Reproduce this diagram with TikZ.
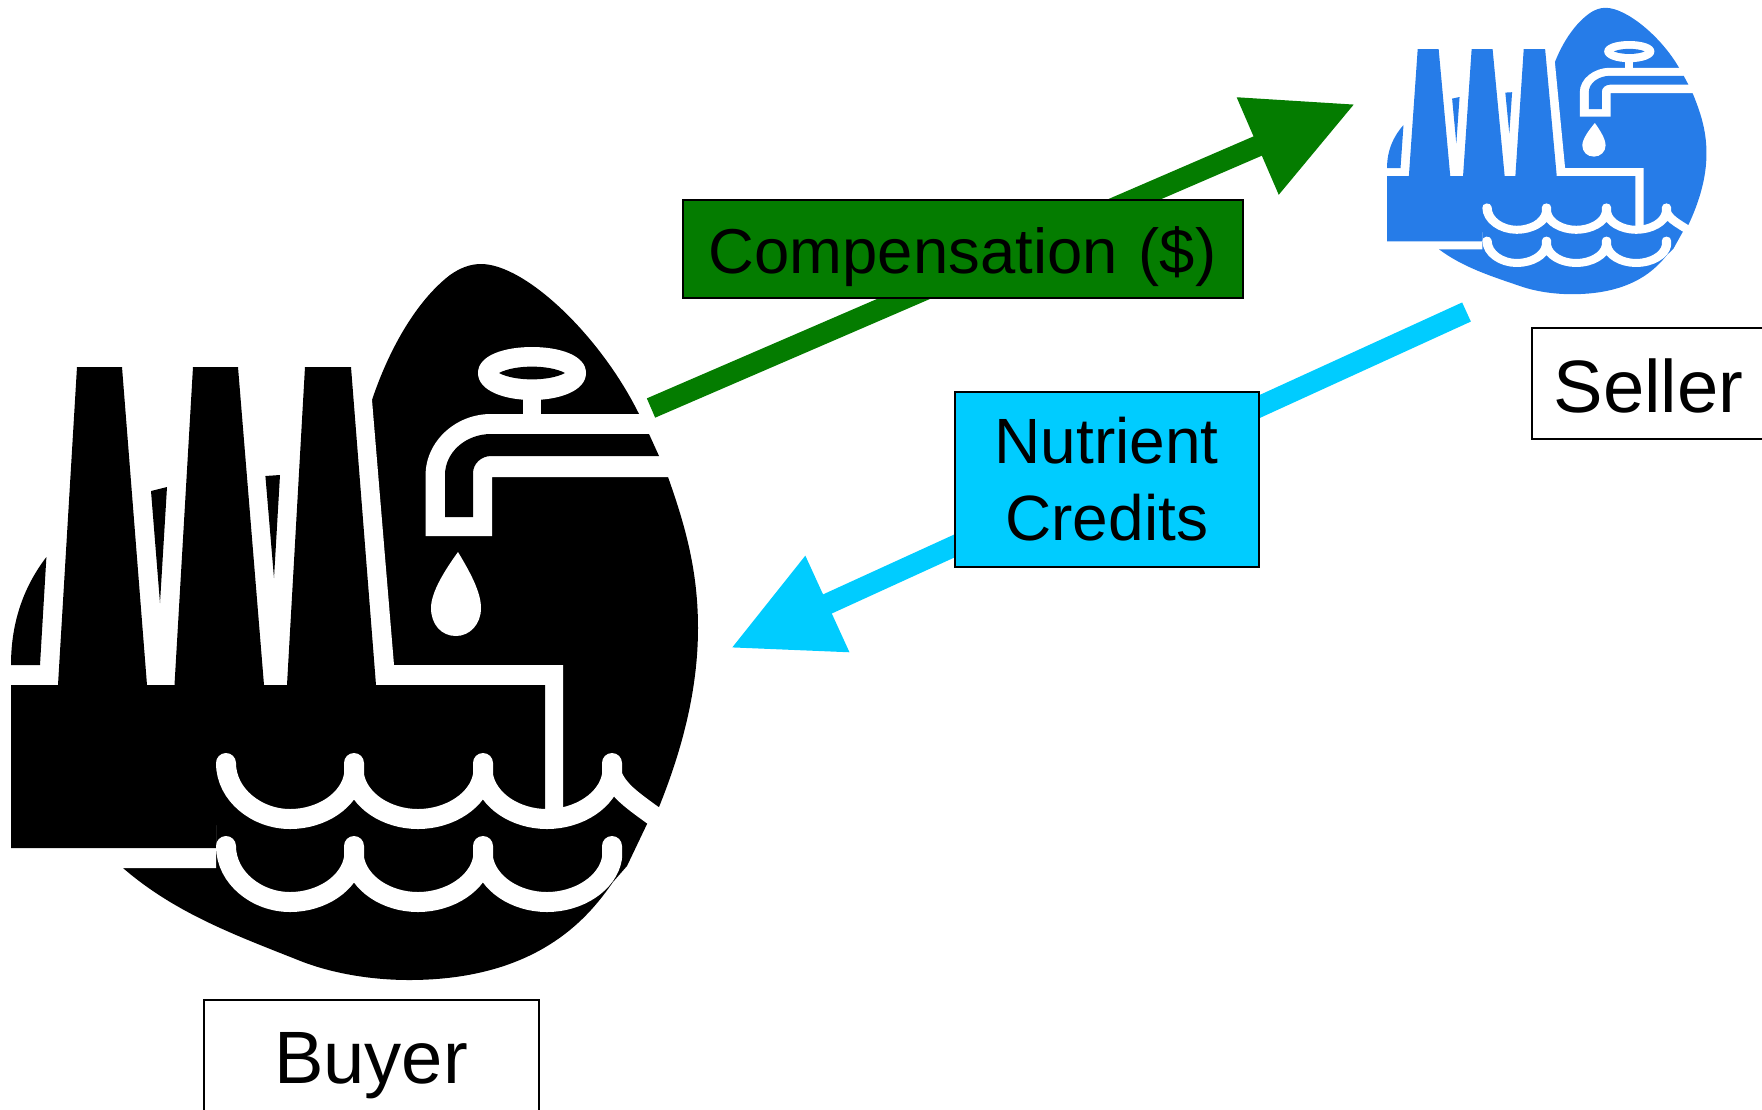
\documentclass[tikz,border=0pt]{standalone}
\usepackage{fontspec}
\setmainfont{Liberation Sans}
\usetikzlibrary{arrows.meta}
\definecolor{paygreen}{HTML}{047C00}
\definecolor{creditcyan}{HTML}{00CCFF}
\definecolor{sellerblue}{HTML}{267CE8}
\tikzset{
  labelbox/.style={draw=black,line width=1pt,inner sep=0pt,outer sep=0pt,anchor=north west,align=center,text=black},
  bigtext/.style={font=\fontsize{37.1}{40}\selectfont},
  midtext/.style={font=\fontsize{32}{38.5}\selectfont},
  comptext/.style={font=\fontsize{31.7}{38}\selectfont},
  waveline/.style={draw=white,line width=10pt,line cap=round,line join=round},
  flowarrow/.style={line width=10.5pt,-{Triangle[length=53pt,width=50pt]}}
}
\newcommand{\wqwave}{%
  (226,763) .. controls (226,795) and (257,819) .. (290,819)
    .. controls (322,819) and (350,800) .. (354,775)
  (354,763) -- (354,775)
  (354,775) .. controls (358,800) and (386,819) .. (418,819)
    .. controls (450,819) and (479,800) .. (483,775)
  (483,763) -- (483,775)
  (483,775) .. controls (487,800) and (515,819) .. (547,819)
    .. controls (579,819) and (608,800) .. (612,775)
  (612,763) -- (612,775)
}
\newcommand{\wqicon}[1]{%
  % water-drop background
  \fill[#1] (372,400) .. controls (388,352) and (415,302) .. (450,275)
    .. controls (460,268) and (470,264) .. (481,264)
    .. controls (525,264) and (600,335) .. (639,414)
    -- (649,434) -- (659,456) -- (668,477)
    .. controls (685,525) and (698,570) .. (698,628)
    .. controls (698,690) and (682,750) .. (659,807)
    -- (647,824) -- (627,866) -- (613,882)
    .. controls (590,915) and (540,980) .. (409,980)
    .. controls (370,980) and (330,973) .. (298,960)
    .. controls (235,935) and (175,913) .. (123,868) -- cycle;
  % white halo round the factory
  \fill[white] (372,400) -- (394,665) -- (563,665) -- (563,815) -- (216,815)
    -- (216,868) -- (100,868) -- (100,400) -- cycle;
  % small drop part left of the factory
  \fill[#1] (11,665) .. controls (11,620) and (25,585) .. (46.4,557) -- (40,665) -- cycle;
  % factory
  \fill[#1] (11,685) -- (58,685) -- (77,367) -- (122,367) -- (147,685) -- (174.5,685)
    -- (193,367) -- (238,367) -- (264,685) -- (287,685) -- (305,367) -- (351,367)
    -- (376,685) -- (545,685) -- (545,825) -- (216,825) -- (216,848) -- (11,848) -- cycle;
  \fill[#1] (151,491) -- (167,487) -- (160,603) -- cycle;
  \fill[#1] (265.4,476) -- (280,475) -- (274,578) -- cycle;
  % waves
  \draw[waveline] \wqwave (612,775) .. controls (620,795) and (640,805) .. (680,835);
  \begin{scope}[shift={(0,83)}]
    \draw[waveline] \wqwave;
  \end{scope}
  % tap
  \fill[white] (478,373) .. controls (478,355) and (505,347) .. (532,347)
    .. controls (559,347) and (586,355) .. (586,373)
    .. controls (586,391) and (559,400) .. (532,400)
    .. controls (505,400) and (478,391) .. (478,373) -- cycle;
  \fill[#1] (499,373) .. controls (515,364.5) and (549,364.5) .. (565,373)
    .. controls (549,381.5) and (515,381.5) .. (499,373) -- cycle;
  \fill[white] (522.5,395) rectangle (541,420);
  \fill[white] (425.6,536) -- (492,536) -- (492,477) -- (700,477) -- (700,414) -- (491,414)
    .. controls (455,414) and (425.6,442) .. (425.6,475) -- cycle;
  \fill[#1] (445,517) -- (473,517) -- (473,473)
    .. controls (473,464) and (481,456) .. (491,456)
    -- (659,456) -- (649,434) -- (491,434)
    .. controls (466,434) and (445,452) .. (445,475) -- cycle;
  \fill[white] (458,552) .. controls (470,572) and (481,592) .. (481,608)
    .. controls (481,624) and (470,636) .. (456,636)
    .. controls (441,636) and (431,624) .. (431,608)
    .. controls (431,592) and (445,570) .. (458,552) -- cycle;
}
\begin{document}
\begin{tikzpicture}[x=0.5pt,y=-0.5pt]
  \useasboundingbox (0,0) rectangle (1762,1109);
  % buyer icon
  \begin{scope}
    \wqicon{black}
  \end{scope}
  % seller icon: same drawing, scaled unevenly
  \begin{scope}[transform canvas={shift={(1381.9,-97.8)},xscale=0.465,yscale=0.4}]
    \wqicon{sellerblue}
  \end{scope}
  % connector ends
  \coordinate (paystart) at (651,408);
  \coordinate (payend) at (1355,104);
  \coordinate (creditstart) at (1466.5,312);
  \coordinate (creditend) at (731,648);
  \draw[flowarrow,paygreen] (paystart) -- (payend);
  \draw[flowarrow,creditcyan] (creditstart) -- (creditend);
  % labels
  \node[labelbox,comptext,fill=paygreen,text width=280pt,text height=36.5pt,text depth=12.5pt]
    (comp) at (682.6,200) {Compensation (\$)};
  \node[labelbox,midtext,fill=creditcyan,text width=151.75pt,minimum height=87.5pt]
    (credits) at (955,392) {Nutrient\\Credits};
  \node[labelbox,bigtext,fill=white,text width=117pt,text height=42pt,text depth=13.5pt]
    (seller) at (1531.5,328) {Seller};
  \node[labelbox,bigtext,fill=white,text width=167.5pt,text height=41.5pt,text depth=21pt]
    (buyer) at (203.5,1000) {Buyer};
\end{tikzpicture}
\end{document}
